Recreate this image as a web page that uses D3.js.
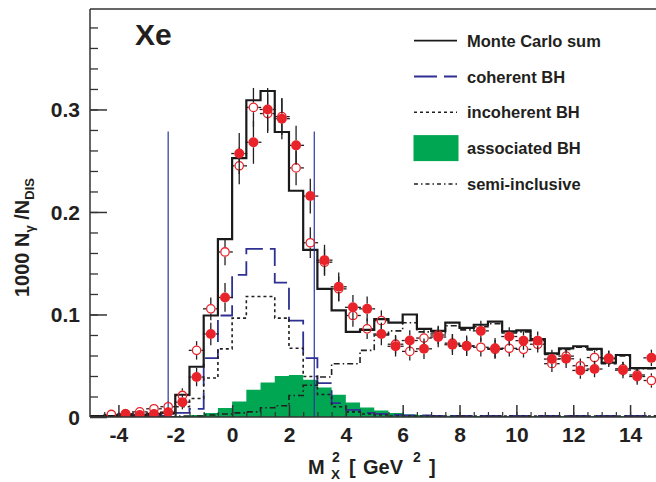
<html>
<head>
<style>
  body { margin: 0; background: #fff; }
  svg text { font-family: "Liberation Sans", Arial, Helvetica, sans-serif; font-weight: bold; fill: #231f20; }
  .axis path, .axis line { stroke: #333; }
</style>
</head>
<body>
<svg id="chart" width="656" height="482"></svg>
<script src="https://cdn.jsdelivr.net/npm/d3@7"></script>
<script>
// histogram bins (0.5 GeV^2 wide), centres
let binCenters = [-4.75,-4.25,-3.75,-3.25,-2.75,-2.25,-1.75,-1.25,-0.75,-0.25,
  0.25,0.75,1.25,1.75,2.25,2.75,3.25,3.75,4.25,4.75,
  5.25,5.75,6.25,6.75,7.25,7.75,8.25,8.75,9.25,9.75,
  10.25,10.75,11.25,11.75,12.25,12.75,13.25,13.75,14.25,14.75]

let mcSum = [0.001,0.001,0.002,0.002,0.003,0.004,0.0217,0.049,0.099,0.1736,
  0.2525,0.309,0.318,0.278,0.2207,0.163,0.125,0.104,0.083,0.085,
  0.0955,0.092,0.100,0.086,0.084,0.092,0.087,0.090,0.093,0.0835,
  0.0845,0.076,0.062,0.067,0.069,0.0665,0.053,0.0605,0.0477,0.0477]

let coherentBH = [0,0,0,0,0.001,0.001,0.004,0.008,0.0575,0.099,
  0.1387,0.164,0.164,0.131,0.094,0.0575,0.033,0.0136,0.007,0.004,
  0.003,0.002,0.0015,0.0015,0.001,0.001,0.001,0.001,0.001,0.001,
  0.001,0.001,0.001,0.001,0.001,0.001,0.001,0.001,0.001,0.001]

let incoherentBH = [0,0,0.001,0.001,0.002,0.003,0.010,0.018,0.038,0.0665,
  0.0965,0.1176,0.1176,0.0965,0.067,0.0395,0.022,0.010,0.005,0.003,
  0.002,0.001,0.001,0.001,0.001,0.001,0.001,0.001,0.001,0.001,
  0.001,0.001,0.001,0.001,0.001,0.001,0.001,0.001,0.001,0.001]

let associatedBH = [0,0,0,0,0.0005,0.001,0.001,0.002,0.004,0.0087,
  0.015,0.0265,0.0337,0.040,0.041,0.0363,0.0288,0.0217,0.0142,0.0093,
  0.0063,0.0038,0.0025,0.002,0.0015,0.0012,0.001,0.001,0.001,0.001,
  0.001,0.001,0.001,0.001,0.001,0.001,0.001,0.001,0.001,0.001]

let semiInclusive = [0,0,0,0,0,0,0.001,0.001,0.002,0.003,
  0.004,0.005,0.009,0.011,0.021,0.031,0.039,0.052,0.052,0.065,
  0.080,0.084,0.092,0.083,0.082,0.089,0.085,0.088,0.091,0.082,
  0.083,0.075,0.061,0.066,0.068,0.0655,0.052,0.0595,0.047,0.047]

// data points
let pointX = [-4.25,-3.75,-3.25,-2.75,-2.25,-1.75,-1.25,-0.75,-0.25,
  0.25,0.75,1.25,1.75,2.25,2.75,3.25,3.75,4.25,4.75,
  5.25,5.75,6.25,6.75,7.25,7.75,8.25,8.75,9.25,9.75,
  10.25,10.75,11.25,11.75,12.25,12.75,13.25,13.75,14.25,14.75]

let filledY = [null,0.003,0.002,0.003,0.0047,0.0145,0.039,0.081,0.1166,
  0.257,0.268,0.300,0.291,0.265,0.2155,0.153,0.127,0.107,0.1055,
  0.081,0.069,0.0746,0.0665,0.078,0.0705,0.0695,0.084,0.067,0.0785,
  0.0745,0.0745,0.0565,0.0568,0.0454,0.0468,0.0568,0.0457,0.0395,0.0577]
let filledErr = [0,0.005,0.004,0.004,0.005,0.007,0.009,0.011,0.014,
  0.020,0.021,0.021,0.020,0.019,0.017,0.015,0.014,0.012,0.012,
  0.011,0.010,0.010,0.010,0.010,0.010,0.010,0.010,0.010,0.009,
  0.009,0.009,0.009,0.009,0.008,0.008,0.008,0.008,0.008,0.008]

let openY = [0.0025,0.003,0.005,0.008,0.010,0.021,0.065,0.1055,0.161,
  0.245,0.302,0.296,0.293,0.243,0.170,0.151,0.125,0.099,0.086,
  0.094,0.071,0.064,0.077,0.080,0.072,0.069,0.068,0.066,0.067,
  0.066,0.071,0.052,0.0594,0.050,0.058,0.0575,0.047,0.041,0.0356]
let openErr = [0.004,0.004,0.004,0.004,0.005,0.007,0.009,0.011,0.013,
  0.018,0.019,0.019,0.018,0.017,0.015,0.013,0.012,0.011,0.010,
  0.010,0.009,0.009,0.009,0.009,0.009,0.009,0.009,0.009,0.008,
  0.008,0.008,0.008,0.008,0.007,0.007,0.007,0.007,0.007,0.007]

let cuts = [-2.25, 2.89]
let cutTop = 0.2785

let legendItems = ["Monte Carlo sum", "coherent BH", "incoherent BH", "associated BH", "semi-inclusive"]

let svg = d3.select("#chart")
let x = d3.scaleLinear().domain([-5, 15]).range([90, 658.5])
let y = d3.scaleLinear().domain([0, 0.398]).range([417, 9])

svg.append("clipPath").attr("id", "clip")
  .append("rect").attr("x", 90).attr("y", 9).attr("width", 570).attr("height", 408)

let plot = svg.append("g").attr("clip-path", "url(#clip)")

function steps(vals) {
  let pts = binCenters.map((c, i) => ({ x: c - 0.25, y: vals[i] }))
  pts.push({ x: 15, y: vals[vals.length - 1] })
  return pts
}

let stepLine = d3.line().x(d => x(d.x)).y(d => y(d.y)).curve(d3.curveStepAfter)
let stepArea = d3.area().x(d => x(d.x)).y0(y(0)).y1(d => y(d.y)).curve(d3.curveStepAfter)

plot.append("path").datum(steps(associatedBH))
  .attr("d", stepArea).attr("fill", "#00a651")

plot.append("path").datum(steps(coherentBH))
  .attr("d", stepLine).attr("fill", "none")
  .attr("stroke", "#2e3192").attr("stroke-width", 1.8).attr("stroke-dasharray", "22,7")

plot.append("path").datum(steps(incoherentBH))
  .attr("d", stepLine).attr("fill", "none")
  .attr("stroke", "#231f20").attr("stroke-width", 1.6).attr("stroke-dasharray", "3,3")

plot.append("path").datum(steps(semiInclusive))
  .attr("d", stepLine).attr("fill", "none")
  .attr("stroke", "#231f20").attr("stroke-width", 1.6).attr("stroke-dasharray", "6,3,1.5,3")

plot.append("path").datum(steps(mcSum))
  .attr("d", stepLine).attr("fill", "none")
  .attr("stroke", "#1a1a1a").attr("stroke-width", 2.2)

// cut lines
plot.selectAll(".cut").data(cuts).enter().append("line")
  .attr("x1", d => x(d)).attr("x2", d => x(d))
  .attr("y1", y(cutTop)).attr("y2", y(0))
  .attr("stroke", "#2b35a0").attr("stroke-width", 1.2)

// points with error bars (gap at the marker)
function drawPoints(vals, errs, r, filled) {
  let pts = pointX.map((px, i) => ({ x: px, v: vals[i], e: errs[i] })).filter(d => d.v !== null)
  let g = plot.append("g")
  pts.forEach(d => {
    let cx = x(d.x), cy = y(d.v)
    let top = y(d.v + d.e), bot = y(Math.max(d.v - d.e, 0))
    if (cy - r > top) g.append("line").attr("x1", cx).attr("x2", cx).attr("y1", top).attr("y2", cy - r)
      .attr("stroke", "#231f20").attr("stroke-width", 1.3)
    if (bot > cy + r) g.append("line").attr("x1", cx).attr("x2", cx).attr("y1", cy + r).attr("y2", bot)
      .attr("stroke", "#231f20").attr("stroke-width", 1.3)
    g.append("line").attr("x1", cx - r - 3).attr("x2", cx - r).attr("y1", cy).attr("y2", cy)
      .attr("stroke", "#231f20").attr("stroke-width", 1.3)
    g.append("line").attr("x1", cx + r).attr("x2", cx + r + 3).attr("y1", cy).attr("y2", cy)
      .attr("stroke", "#231f20").attr("stroke-width", 1.3)
  })
  g.selectAll("circle").data(pts).enter().append("circle")
    .attr("cx", d => x(d.x)).attr("cy", d => y(d.v)).attr("r", filled ? r : r - 0.6)
    .attr("fill", filled ? "#e8232a" : "none")
    .attr("stroke", "#e8232a").attr("stroke-width", filled ? 0 : 1.3)
}
drawPoints(openY, openErr, 4.8, false)
drawPoints(filledY, filledErr, 5, true)

// frame
svg.append("line").attr("x1", 90).attr("x2", 660).attr("y1", 9).attr("y2", 9)
  .attr("stroke", "#333").attr("stroke-width", 1.5)
svg.append("line").attr("x1", 90).attr("x2", 90).attr("y1", 9).attr("y2", 417)
  .attr("stroke", "#333").attr("stroke-width", 1.5)
svg.append("line").attr("x1", 90).attr("x2", 660).attr("y1", 417).attr("y2", 417)
  .attr("stroke", "#333").attr("stroke-width", 1.5)

// y axis
let yMajor = svg.append("g").attr("class", "axis").attr("transform", "translate(90,0)")
  .call(d3.axisLeft(y).tickValues([0, 0.1, 0.2, 0.3]).tickSize(-17).tickPadding(10)
    .tickFormat(d => d === 0 ? "0" : d3.format(".1f")(d)))
yMajor.select(".domain").remove()
yMajor.selectAll("line").attr("stroke-width", 1.5)
yMajor.selectAll("text").attr("font-size", 21).attr("font-family", null).attr("dy", "0.34em")

let yMinor = svg.append("g").attr("class", "axis").attr("transform", "translate(90,0)")
  .call(d3.axisLeft(y).tickValues(d3.range(0.02, 0.39, 0.02)).tickSize(-8).tickFormat(""))
yMinor.select(".domain").remove()
yMinor.selectAll("line").attr("stroke-width", 1.3)

// x axis
let xMajor = svg.append("g").attr("class", "axis").attr("transform", "translate(0,417)")
  .call(d3.axisBottom(x).tickValues([-4, -2, 0, 2, 4, 6, 8, 10, 12, 14]).tickSize(-12).tickPadding(10)
    .tickFormat(d => String(d)))
xMajor.select(".domain").remove()
xMajor.selectAll("line").attr("stroke-width", 1.5)
xMajor.selectAll("text").attr("font-size", 21).attr("font-family", null)

let xMinor = svg.append("g").attr("class", "axis").attr("transform", "translate(0,417)")
  .call(d3.axisBottom(x).tickValues(d3.range(-4.5, 15, 0.5)).tickSize(-5).tickFormat(""))
xMinor.select(".domain").remove()
xMinor.selectAll("line").attr("stroke-width", 1.2)

// axis titles
let xt = svg.append("g")
xt.append("text").attr("x", 308).attr("y", 474).attr("font-size", 20).text("M")
xt.append("text").attr("x", 332).attr("y", 462).attr("font-size", 14).text("2")
xt.append("text").attr("x", 331).attr("y", 479).attr("font-size", 13.5).text("X")
xt.append("text").attr("x", 349).attr("y", 474).attr("font-size", 20).text("[")
xt.append("text").attr("x", 363).attr("y", 474).attr("font-size", 20).text("GeV")
xt.append("text").attr("x", 413).attr("y", 462).attr("font-size", 14).text("2")
xt.append("text").attr("x", 429).attr("y", 474).attr("font-size", 20).text("]")

let yt = svg.append("text").attr("transform", "translate(29,297) rotate(-90)").attr("font-size", 20)
yt.append("tspan").text("1000 N")
yt.append("tspan").attr("font-size", 13).attr("dy", 5).text("γ")
yt.append("tspan").attr("dy", -5).text(" /N")
yt.append("tspan").attr("font-size", 13).attr("dy", 5).text("DIS")

svg.append("text").attr("x", 135).attr("y", 45).attr("font-size", 30).text("Xe")

// legend
let lg = svg.append("g")
let rowY = i => 40.7 + i * 35.8
lg.append("line").attr("x1", 414).attr("x2", 457).attr("y1", rowY(0)).attr("y2", rowY(0))
  .attr("stroke", "#1a1a1a").attr("stroke-width", 1.8)
lg.append("line").attr("x1", 414).attr("x2", 457).attr("y1", rowY(1)).attr("y2", rowY(1))
  .attr("stroke", "#2e3192").attr("stroke-width", 1.8).attr("stroke-dasharray", "23,7")
lg.append("line").attr("x1", 414).attr("x2", 457).attr("y1", rowY(2)).attr("y2", rowY(2))
  .attr("stroke", "#231f20").attr("stroke-width", 1.5).attr("stroke-dasharray", "3,3")
lg.append("rect").attr("x", 413.5).attr("y", rowY(3) - 13).attr("width", 45).attr("height", 26)
  .attr("fill", "#00a651")
lg.append("line").attr("x1", 414).attr("x2", 457).attr("y1", rowY(4)).attr("y2", rowY(4))
  .attr("stroke", "#231f20").attr("stroke-width", 1.5).attr("stroke-dasharray", "4,3,1.5,3")
lg.selectAll(".lt").data(legendItems).enter().append("text")
  .attr("x", 467).attr("y", (d, i) => rowY(i) + 6).attr("font-size", 16.5).text(d => d)
</script>
</body>
</html>
